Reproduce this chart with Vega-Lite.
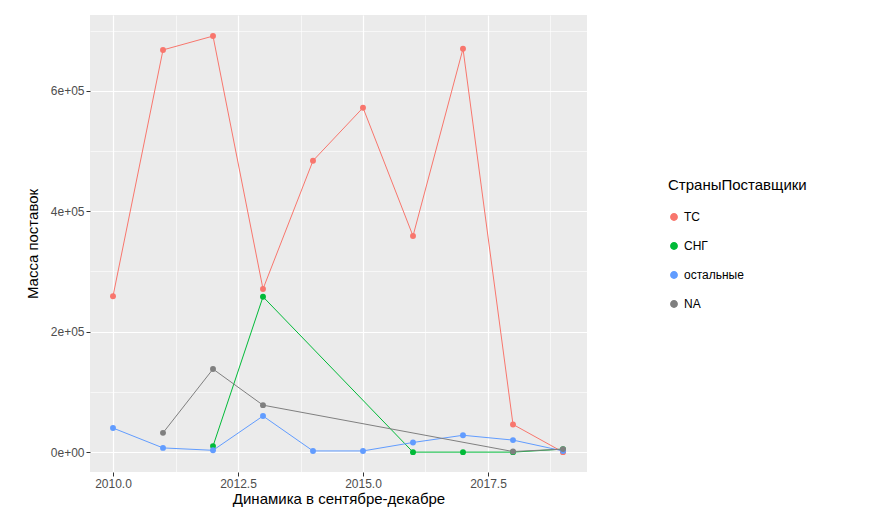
{
  "$schema": "https://vega.github.io/schema/vega-lite/v6.json",
  "width": 497,
  "height": 457,
  "autosize": "none",
  "padding": {"left": 90, "top": 15, "right": 284, "bottom": 51},
  "background": "white",
  "config": {
    "view": {"fill": "#EBEBEB", "stroke": null},
    "font": "Liberation Sans",
    "axis": {"domain": false, "gridColor": "white", "tickColor": "#333333", "tickSize": 4, "labelColor": "#4D4D4D", "labelFontSize": 12, "titleFontSize": 15, "titleFontWeight": "normal", "titleColor": "black"}
  },
  "data": {
    "values": [
      {"year": 2010, "mass": 259000, "group": "ТС"},
      {"year": 2011, "mass": 668000, "group": "ТС"},
      {"year": 2012, "mass": 691000, "group": "ТС"},
      {"year": 2013, "mass": 271000, "group": "ТС"},
      {"year": 2014, "mass": 484000, "group": "ТС"},
      {"year": 2015, "mass": 572000, "group": "ТС"},
      {"year": 2016, "mass": 359000, "group": "ТС"},
      {"year": 2017, "mass": 670000, "group": "ТС"},
      {"year": 2018, "mass": 46000, "group": "ТС"},
      {"year": 2019, "mass": 0, "group": "ТС"},
      {"year": 2012, "mass": 10000, "group": "СНГ"},
      {"year": 2013, "mass": 258000, "group": "СНГ"},
      {"year": 2016, "mass": 0, "group": "СНГ"},
      {"year": 2017, "mass": 0, "group": "СНГ"},
      {"year": 2018, "mass": 0, "group": "СНГ"},
      {"year": 2019, "mass": 5000, "group": "СНГ"},
      {"year": 2010, "mass": 40000, "group": "остальные"},
      {"year": 2011, "mass": 7000, "group": "остальные"},
      {"year": 2012, "mass": 3000, "group": "остальные"},
      {"year": 2013, "mass": 60000, "group": "остальные"},
      {"year": 2014, "mass": 2000, "group": "остальные"},
      {"year": 2015, "mass": 2000, "group": "остальные"},
      {"year": 2016, "mass": 16000, "group": "остальные"},
      {"year": 2017, "mass": 28000, "group": "остальные"},
      {"year": 2018, "mass": 20000, "group": "остальные"},
      {"year": 2019, "mass": 2000, "group": "остальные"},
      {"year": 2011, "mass": 32000, "group": "NA"},
      {"year": 2012, "mass": 138000, "group": "NA"},
      {"year": 2013, "mass": 78000, "group": "NA"},
      {"year": 2018, "mass": 1000, "group": "NA"},
      {"year": 2019, "mass": 5000, "group": "NA"}
    ]
  },
  "encoding": {
    "x": {
      "field": "year", "type": "quantitative",
      "scale": {"domain": [2009.54, 2019.48], "nice": false, "zero": false},
      "title": "Динамика в сентябре-декабре",
      "axis": {
        "values": [2010, 2011.25, 2012.5, 2013.75, 2015, 2016.25, 2017.5, 2018.75],
        "labelExpr": "datum.value % 2.5 == 0 ? format(datum.value, '.1f') : ''",
        "gridWidth": {"condition": {"test": "datum.value % 2.5 != 0", "value": 0.6}, "value": 1.2},
        "tickWidth": {"condition": {"test": "datum.value % 2.5 != 0", "value": 0}, "value": 1},
        "titlePadding": 2
      }
    },
    "y": {
      "field": "mass", "type": "quantitative",
      "scale": {"domain": [-33000, 726000], "nice": false, "zero": false},
      "title": "Масса поставок",
      "axis": {
        "values": [0, 100000, 200000, 300000, 400000, 500000, 600000, 700000],
        "labelExpr": "datum.value % 200000 == 0 ? (datum.value == 0 ? '0e+00' : (datum.value / 100000) + 'e+05') : ''",
        "gridWidth": {"condition": {"test": "datum.value % 200000 != 0", "value": 0.6}, "value": 1.2},
        "tickWidth": {"condition": {"test": "datum.value % 200000 != 0", "value": 0}, "value": 1},
        "titlePadding": 10
      }
    },
    "color": {
      "field": "group", "type": "nominal",
      "scale": {"domain": ["ТС", "СНГ", "остальные", "NA"], "range": ["#F8766D", "#00BA38", "#619CFF", "#7F7F7F"]},
      "title": "СтраныПоставщики",
      "legend": {"orient": "none", "legendX": 578, "legendY": 163, "titleFontSize": 15, "titleFontWeight": "normal", "labelFontSize": 12, "symbolType": "circle", "symbolSize": 40, "rowPadding": 15, "titlePadding": 18}
    }
  },
  "layer": [
    {"mark": {"type": "line", "strokeWidth": 1}},
    {"mark": {"type": "circle", "size": 35, "opacity": 1}}
  ]
}
